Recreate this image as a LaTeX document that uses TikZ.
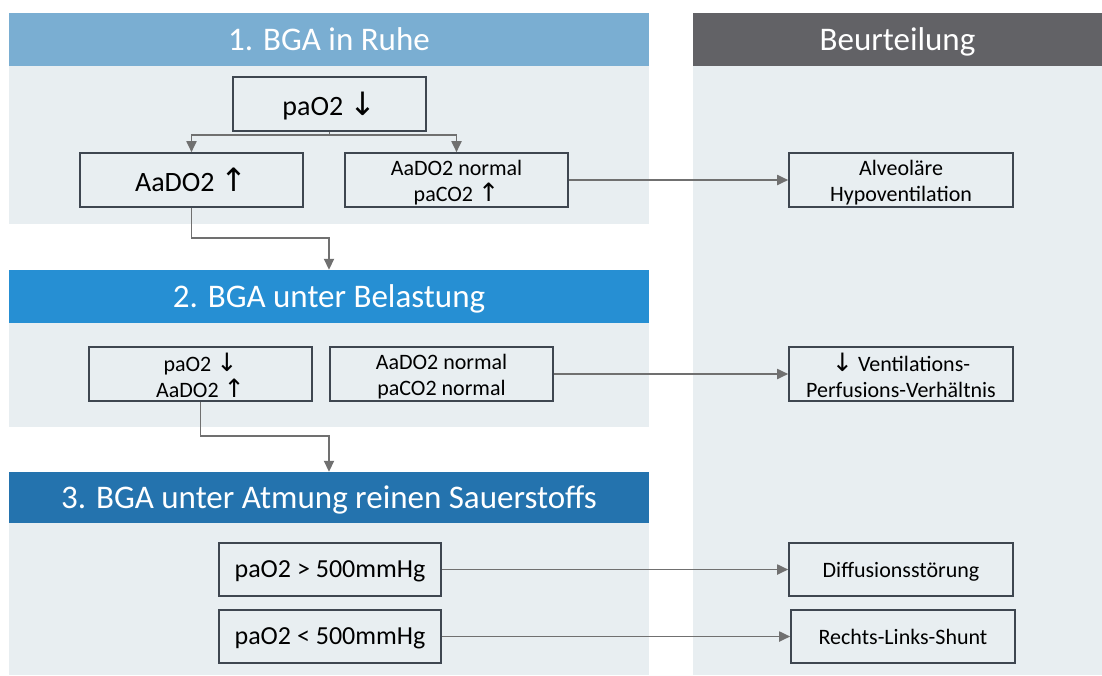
\documentclass[tikz,border=0pt]{standalone}
\usepackage{fontspec}
\usepackage{graphicx}
\setmainfont{Carlito}
\newfontfamily\arr{DejaVu Sans}
\usetikzlibrary{arrows.meta}
\definecolor{hdrA}{RGB}{122,174,210}
\definecolor{hdrB}{RGB}{38,143,211}
\definecolor{hdrC}{RGB}{36,115,174}
\definecolor{hdrG}{RGB}{98,98,102}
\definecolor{panel}{RGB}{232,238,241}
\definecolor{boxline}{RGB}{62,70,80}
\definecolor{conn}{RGB}{112,112,112}
\newcommand{\up}{\scalebox{1.15}{\arr\char"2191}}
\newcommand{\dn}{\scalebox{1.15}{\arr\char"2193}}
\newcommand{\st}{\rule{0pt}{21pt}}
\tikzset{
  hdr/.style={rectangle, inner sep=0pt, text=white, minimum height=53pt,
    text depth=0pt, font=\fontsize{33}{38}\selectfont},
  bx/.style={rectangle, draw=boxline, line width=1.6pt, inner sep=0pt,
    align=center, minimum height=54pt, font=\fontsize{22}{26}\selectfont},
  onebx/.style={bx, text depth=0pt},
  bigbx/.style={onebx, font=\fontsize{28}{32}\selectfont},
  midbx/.style={onebx, font=\fontsize{26}{30}\selectfont},
  cn/.style={draw=conn, line width=1.8pt},
  cna/.style={cn, -{Triangle[length=11pt,width=10pt]}}
}
\begin{document}
\begin{tikzpicture}[x=1pt,y=-1pt]
\useasboundingbox (0,0) rectangle (1102,675);
\fill[white] (0,0) rectangle (1102,675);
% panels
\fill[panel] (9,66) rectangle (649,224);
\fill[panel] (9,323) rectangle (649,427);
\fill[panel] (9,523) rectangle (649,675);
\fill[panel] (693,66) rectangle (1102,675);
% headers
\node[hdr, fill=hdrA, minimum width=640pt] (h1) at (329,39.5) {1. BGA in Ruhe};
\node[hdr, fill=hdrB, minimum width=640pt] (h2) at (329,296.5) {2. BGA unter Belastung};
\node[hdr, fill=hdrC, minimum width=640pt, minimum height=51pt] (h3) at (329,497.5) {3. BGA unter Atmung reinen Sauerstoffs};
\node[hdr, fill=hdrG, minimum width=409pt] (hr) at (897.5,39.5) {Beurteilung};
% section 1
\node[bigbx, minimum width=193pt] (b1) at (329.5,104) {paO2 \dn};
\node[bigbx, minimum width=223pt] (b2) at (191.5,180) {AaDO2 \up};
\node[bx, minimum width=223pt] (b3) at (456.5,180) {\st AaDO2 normal\\paCO2 \up};
\node[bx, minimum width=224pt] (r1) at (901,180) {\st Alveoläre\\Hypoventilation};
% section 2
\node[bx, minimum width=223pt] (b4) at (200.5,374) {\st paO2 \dn\\AaDO2 \up};
\node[bx, minimum width=223pt] (b5) at (441.5,374) {\st AaDO2 normal\\paCO2 normal};
\node[bx, minimum width=224pt] (r2) at (901,374) {\st\dn\ Ventilations-\\Perfusions-Verhältnis};
% section 3
\node[midbx, minimum width=222pt, minimum height=53pt] (b6) at (330,569.5) {paO2 > 500mmHg};
\node[midbx, minimum width=222pt, minimum height=53pt] (b7) at (330,636.5) {paO2 < 500mmHg};
\node[onebx, minimum width=224pt, minimum height=53pt] (r3) at (901,569.5) {Diffusionsstörung};
\node[onebx, minimum width=224pt, minimum height=53pt] (r4) at (903,636.5) {Rechts-Links-Shunt};
% connectors
\coordinate (j1) at (329.5,135);
\draw[cn] (b1.south) -- (j1);
\draw[cna] (j1) -| (b2.north);
\draw[cna] (j1) -| (b3.north);
\draw[cna] (b3.east) -- (r1.west);
\coordinate (k1) at (329,238);
\draw[cna] (b2.south) |- (k1) -- (h2.north);
\draw[cna] (b5.east) -- (r2.west);
\coordinate (k2) at (329,436);
\draw[cna] (b4.south) |- (k2) -- (h3.north);
\draw[cna] (b6.east) -- (r3.west);
\draw[cna] (b7.east) -- (r4.west);
\end{tikzpicture}
\end{document}
